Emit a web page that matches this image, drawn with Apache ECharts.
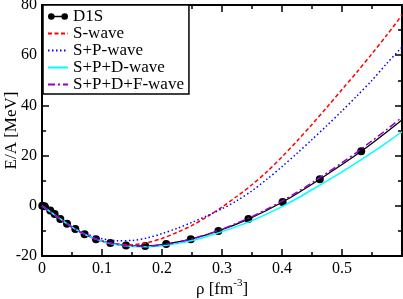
<!DOCTYPE html>
<html>
<head>
<meta charset="utf-8">
<script src="https://cdn.jsdelivr.net/npm/echarts@6/dist/echarts.min.js"></script>
<style>
html,body{margin:0;padding:0;background:#fff;}
#c{width:403px;height:299px;}
</style>
</head>
<body>
<div id="c"></div>
<script>
// ---- data ----
var seriesNames = ['D1S', 'S-wave', 'S+P-wave', 'S+P+D-wave', 'S+P+D+F-wave'];
var xTickLabels = ['0', '0.1', '0.2', '0.3', '0.4', '0.5', ''];
var yTickLabels = ['-20', '0', '20', '40', '60', '80'];

// D1S reference points
var d1sRho = [0.0005, 0.0043, 0.0138, 0.021, 0.0305, 0.0417, 0.0555, 0.071, 0.09, 0.114, 0.14, 0.172, 0.207, 0.248, 0.294, 0.344, 0.401, 0.463, 0.532];
var d1sE   = [0.0, -0.2, -1.9, -3.3, -5.3, -7.2, -9.2, -11.3, -13.3, -14.8, -15.8, -16.0, -15.2, -13.3, -10.0, -5.3, 1.5, 10.6, 21.7];
// D1S line continues to the right edge
var d1sLineEnd = [0.6, 34.2];

// density grid of the partial-wave curves
var rhoGrid = [0, 0.025, 0.05, 0.075, 0.1, 0.125, 0.15, 0.175, 0.2, 0.225, 0.25, 0.275, 0.3, 0.325, 0.35, 0.375, 0.4, 0.425, 0.45, 0.475, 0.5, 0.525, 0.55, 0.575, 0.6];
var sWave    = [0, -4.3, -8.6, -11.9, -14.2, -15.3, -15.5, -14.7, -13.0, -10.6, -7.8, -4.4, -0.5, 3.8, 8.4, 13.6, 19.5, 25.8, 32.4, 39.3, 46.3, 53.3, 60.6, 68.1, 76.0];
var spWave   = [0, -4.3, -8.4, -11.3, -13.1, -13.9, -13.8, -12.8, -11.1, -9.0, -6.6, -4.0, -1.2, 2.1, 6.0, 10.6, 15.6, 20.9, 26.4, 32.0, 37.8, 43.8, 50.0, 56.8, 63.2];
var spdWave  = [0, -4.3, -8.5, -11.8, -14.1, -15.5, -16.2, -16.3, -15.9, -15.0, -13.8, -12.2, -10.3, -8.2, -5.9, -3.2, -0.3, 2.9, 6.4, 9.9, 13.5, 17.3, 21.2, 25.3, 29.5];
var spdfWave = [0, -4.3, -8.5, -11.8, -14.0, -15.3, -16.0, -16.1, -15.6, -14.6, -13.2, -11.4, -9.3, -6.9, -4.3, -1.3, 1.9, 5.4, 9.2, 13.1, 17.2, 21.4, 25.9, 30.5, 35.3];

// ---- build ----
function pairs(xs, ys) { return xs.map(function (x, i) { return [x, ys[i]]; }); }
var d1sData = pairs(d1sRho, d1sE);
d1sData.push({ value: d1sLineEnd, symbol: 'none' });

var FONT = 'Liberation Serif';
var chart = echarts.init(document.getElementById('c'), null, { renderer: 'canvas' });

function axisBase(extra) {
  var a = {
    axisLine: { show: true, onZero: false, lineStyle: { color: '#000', width: 2 } },
    axisTick: { show: true, inside: true, length: 7, lineStyle: { color: '#000', width: 1.5 } },
    minorTick: { show: true, splitNumber: 2, length: 4, lineStyle: { color: '#000', width: 1.5 } },
    splitLine: { show: false },
    minorSplitLine: { show: false }
  };
  for (var k in extra) a[k] = extra[k];
  return a;
}

var option = {
  backgroundColor: '#fff',
  animation: false,
  grid: { left: 42, right: 1, top: 5, bottom: 43, containLabel: false, outerBoundsMode: 'none' },
  legend: {
    orient: 'vertical',
    left: 43, top: 5,
    padding: [3, 5, 1, 4],
    itemGap: 0,
    itemWidth: 20,
    itemHeight: 8,
    backgroundColor: '#fff',
    borderColor: '#000',
    borderWidth: 1.5,
    borderRadius: 0,
    itemStyle: { opacity: 0 },
    textStyle: { fontFamily: FONT, fontSize: 17, color: '#000', lineHeight: 16, padding: [0, 0, 0, 0] },
    data: [
      { name: seriesNames[0], itemStyle: { opacity: 1 },
        icon: 'path://M3.3,2.6 L16.7,2.6 L16.7,4 L3.3,4 Z M0,3.3 A3.3,3.3 0 1 1 6.6,3.3 A3.3,3.3 0 1 1 0,3.3 Z M13.4,3.3 A3.3,3.3 0 1 1 20,3.3 A3.3,3.3 0 1 1 13.4,3.3 Z' },
      seriesNames[1], seriesNames[2], seriesNames[3], seriesNames[4]
    ]
  },
  xAxis: [
    axisBase({
      type: 'value', position: 'bottom', min: 0, max: 0.6, interval: 0.1,
      axisLabel: { show: true, margin: 5, fontFamily: FONT, fontSize: 16, color: '#000',
        showMinLabel: true, showMaxLabel: true,
        formatter: function (v, i) { return xTickLabels[i] !== undefined ? xTickLabels[i] : ''; } },
      name: '{a|ρ [fm}{b|-3}{a|]}',
      nameLocation: 'middle',
      nameGap: 22,
      nameMoveOverlap: false,
      nameTextStyle: {
        fontFamily: FONT, fontSize: 17, color: '#000',
        rich: {
          a: { fontFamily: FONT, fontSize: 17, color: '#000', lineHeight: 20, verticalAlign: 'bottom' },
          b: { fontFamily: FONT, fontSize: 11, color: '#000', lineHeight: 11, verticalAlign: 'top' }
        }
      }
    }),
    axisBase({
      type: 'value', position: 'top', min: 0, max: 0.6, interval: 0.1,
      axisLabel: { show: false }
    })
  ],
  yAxis: [
    axisBase({
      type: 'value', position: 'left', min: -20, max: 80, interval: 20,
      axisLabel: { show: true, margin: 5, fontFamily: FONT, fontSize: 16, color: '#000',
        showMinLabel: true, showMaxLabel: true,
        formatter: function (v, i) { return yTickLabels[i] !== undefined ? yTickLabels[i] : ''; } },
      name: 'E/A [MeV]',
      nameLocation: 'middle',
      nameGap: 22,
      nameMoveOverlap: false,
      nameRotate: 90,
      nameTextStyle: { fontFamily: FONT, fontSize: 17, color: '#000' }
    }),
    axisBase({
      type: 'value', position: 'right', min: -20, max: 80, interval: 20,
      axisLabel: { show: false }
    })
  ],
  series: [
    {
      name: seriesNames[0], type: 'line', data: d1sData, smooth: 0.3,
      symbol: 'circle', symbolSize: 8, showSymbol: true,
      itemStyle: { color: '#000' },
      lineStyle: { color: '#000', width: 1.3 },
      z: 2
    },
    {
      name: seriesNames[1], type: 'line', data: pairs(rhoGrid, sWave), smooth: 0.3,
      symbol: 'none', itemStyle: { color: '#ff0000' },
      lineStyle: { color: '#ff0000', width: 1.5, type: [4, 2.5] }, z: 3
    },
    {
      name: seriesNames[2], type: 'line', data: pairs(rhoGrid, spWave), smooth: 0.3,
      symbol: 'none', itemStyle: { color: '#0000ff' },
      lineStyle: { color: '#0000ff', width: 1.5, type: [1.5, 2.5] }, z: 3
    },
    {
      name: seriesNames[3], type: 'line', data: pairs(rhoGrid, spdWave), smooth: 0.3,
      symbol: 'none', itemStyle: { color: '#00ffff' },
      lineStyle: { color: '#00ffff', width: 1.5 }, z: 3
    },
    {
      name: seriesNames[4], type: 'line', data: pairs(rhoGrid, spdfWave), smooth: 0.3,
      symbol: 'none', itemStyle: { color: '#9400d3' },
      lineStyle: { color: '#9400d3', width: 1.5, type: [7, 3, 2, 3] }, z: 4
    }
  ]
};
chart.setOption(option);
</script>
</body>
</html>
